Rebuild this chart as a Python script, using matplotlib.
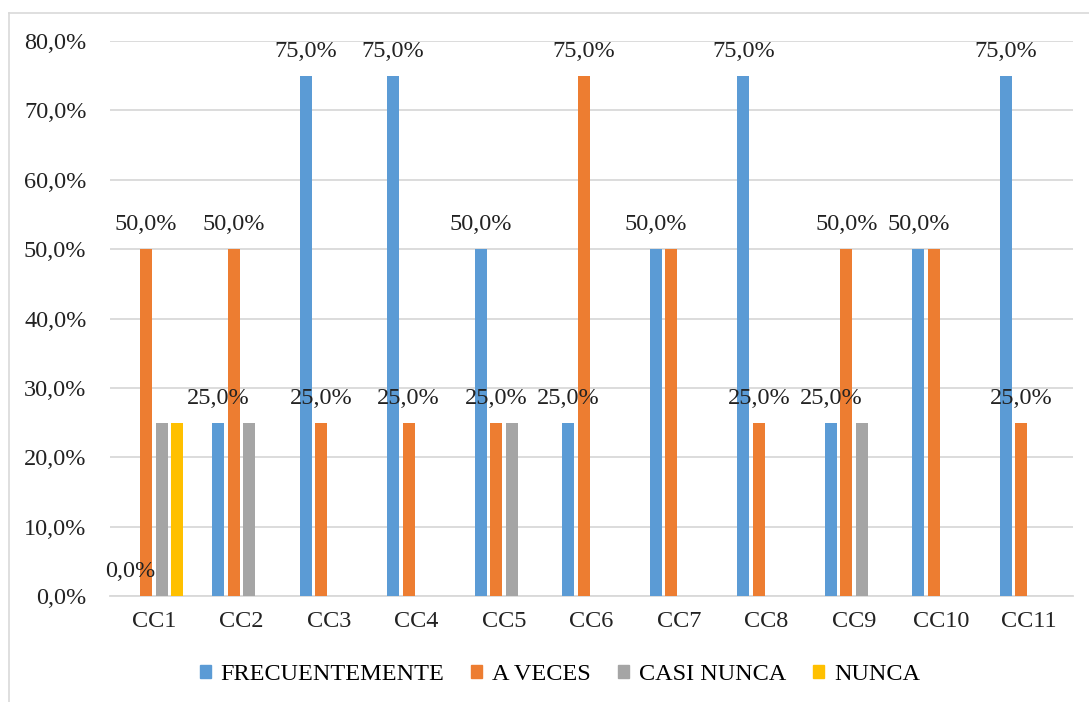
import numpy as np
import matplotlib
matplotlib.use("Agg")
import matplotlib.pyplot as plt
from matplotlib.lines import Line2D

categories = ["CC1", "CC2", "CC3", "CC4", "CC5", "CC6", "CC7", "CC8", "CC9", "CC10", "CC11"]
series_names = ["FRECUENTEMENTE", "A VECES", "CASI NUNCA", "NUNCA"]
frecuentemente = [0, 25, 75, 75, 50, 25, 50, 75, 25, 50, 75]
a_veces = [50, 50, 25, 25, 25, 75, 50, 25, 50, 50, 25]
casi_nunca = [25, 25, 0, 0, 25, 0, 0, 0, 25, 0, 0]
nunca = [25, 0, 0, 0, 0, 0, 0, 0, 0, 0, 0]
y_ticks = [0, 10, 20, 30, 40, 50, 60, 70, 80]

colors = ["#5B9BD5", "#ED7D31", "#A5A5A5", "#FFC000"]
series = [frecuentemente, a_veces, casi_nunca, nunca]

plt.rcParams["font.family"] = ["Liberation Serif", "DejaVu Serif"]
FS = 17.5
TXT = "#222222"

W, H = 1089, 702
fig = plt.figure(figsize=(W / 100, H / 100), dpi=100)
ax = fig.add_axes([110 / W, 1 - 596 / H, (1073 - 110) / W, (596 - 41) / H])

x = np.arange(len(categories))
pitch = 0.177
width = 0.137
offsets = (np.arange(4) - 1.5) * pitch

for vals, off, col in zip(series, offsets, colors):
    ax.bar(x + off, vals, width=width, color=col, zorder=3)

def fmt(v):
    return f"{v:.1f}".replace(".", ",") + "%"

# value labels for the first two series; overlapping duplicates are skipped
for i in range(len(categories)):
    f = frecuentemente[i]
    ax.text(x[i] + offsets[0], f + 2.0, fmt(f), ha="center", va="bottom",
            fontsize=FS, color=TXT, zorder=4)
    a = a_veces[i]
    if a != f:
        ax.text(x[i] + offsets[1], a + 2.0, fmt(a), ha="center", va="bottom",
                fontsize=FS, color=TXT, zorder=4)

ax.set_xlim(-0.5, len(categories) - 0.5)
ax.set_ylim(0, 80)
ax.set_yticks(y_ticks)
ax.set_yticklabels([fmt(v) for v in y_ticks], fontsize=FS, color=TXT)
ax.set_xticks(x)
ax.set_xticklabels(categories, fontsize=FS, color=TXT)
ax.tick_params(axis="both", length=0)
ax.tick_params(axis="y", pad=17)
ax.tick_params(axis="x", pad=11)
ax.grid(axis="y", color="#D9D9D9", linewidth=1.3, zorder=0)
for s in ["top", "right", "left"]:
    ax.spines[s].set_visible(False)
ax.spines["bottom"].set_color("#D9D9D9")
ax.spines["bottom"].set_linewidth(1.3)

handles = [plt.Rectangle((0, 0), 1, 1, color=c) for c in colors]
fig.legend(handles, series_names, loc="center", bbox_to_anchor=(0.514, 1 - 675 / H),
           ncol=4, frameon=False, fontsize=FS, handlelength=0.45, handleheight=0.45,
           handletextpad=0.4, columnspacing=1.12)

# outer chart frame
frame_col = "#D9D9D9"
fig.add_artist(Line2D([9 / W, 9 / W], [0, 1 - 13 / H], transform=fig.transFigure, color=frame_col, lw=1.2))
fig.add_artist(Line2D([9 / W, 1.0], [1 - 13 / H, 1 - 13 / H], transform=fig.transFigure, color=frame_col, lw=1.2))

fig.savefig("out.png", dpi=100, facecolor="white")
